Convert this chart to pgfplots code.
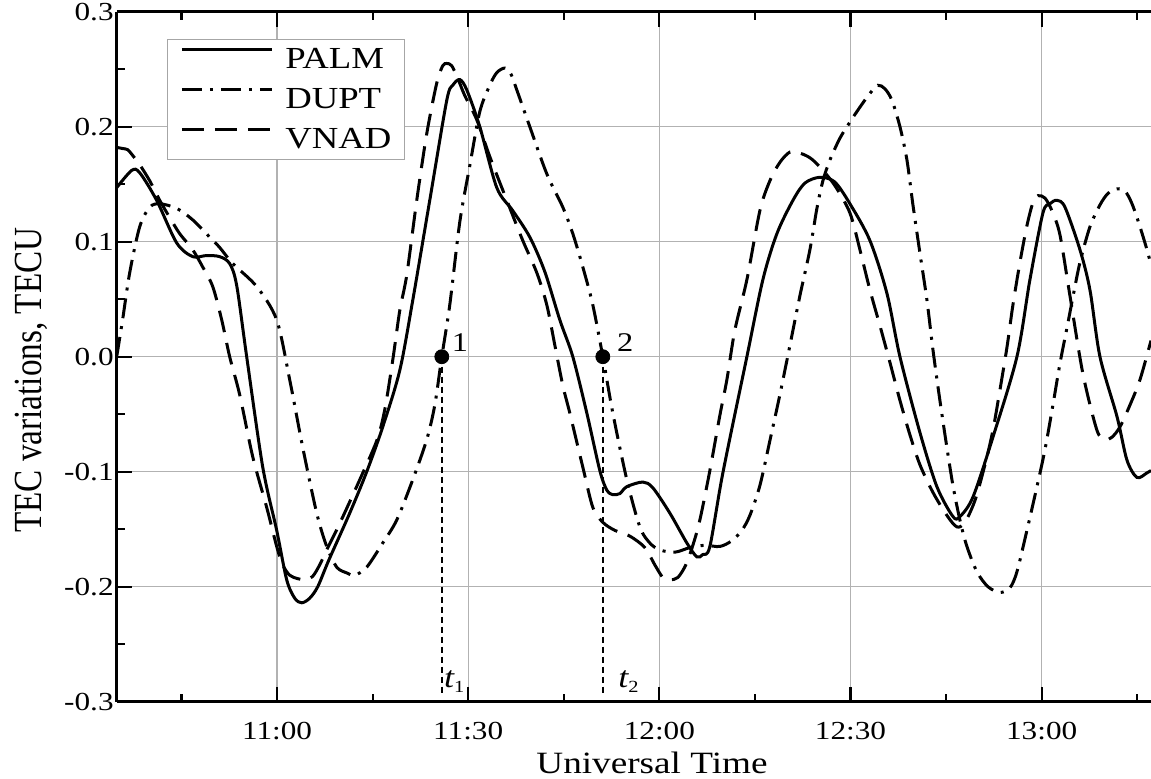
\documentclass[border=0pt]{standalone}
\usepackage{fontspec}
\setmainfont{Liberation Serif}[FakeStretch=1.2]
\newfontfamily\plainserif{Liberation Serif}
\usepackage{graphicx}
\usepackage{pgfplots}
\pgfplotsset{compat=1.18}

\begin{document}
\begin{tikzpicture}
\begin{axis}[
  at={(0,0)}, anchor=south west,
  scale only axis, width=517.15pt, height=345pt,
  xmin=-25.16, xmax=137.16, ymin=-0.3, ymax=0.3,
  axis y line*=left, y axis line style={-},
  axis line style={line width=1.3pt},
  xtick={0,30,60,90,120}, xticklabels={11:00,11:30,12:00,12:30,13:00},
  minor xtick={-15,15,45,75,105,135},
  ytick={-0.3,-0.2,-0.1,0,0.1,0.2,0.3},
  yticklabels={-0.3,-0.2,-0.1,0.0,0.1,0.2,0.3},
  minor ytick={-0.25,-0.15,-0.05,0.05,0.15,0.25},
  tick align=inside, major tick length=7.5pt, minor tick length=4pt,
  tick style={black, line width=1.1pt},
  grid=major, major grid style={gray!60, line width=0.6pt},
  ticklabel style={font=\fontsize{13}{13}\selectfont},
  xticklabel style={yshift=-6.5pt},
  yticklabel style={xshift=2pt},
  xlabel={Universal Time},
  xlabel style={at={(axis description cs:0.5175,-0.1036)}, anchor=base, font=\fontsize{15.5}{15.5}\selectfont},
  ylabel={\scalebox{1}[1.2]{\plainserif\fontsize{16.6}{16.6}\selectfont TEC variations, TECU}},
  ylabel style={at={(axis description cs:-0.0829,0.466)}, anchor=center},
  legend style={at={(axis description cs:0.0483,0.9604)}, anchor=north west,
    draw=gray!70, line width=0.6pt, font=\fontsize{15.3}{15.3}\selectfont,
    nodes={inner sep=0pt}, column sep=6pt, row sep=8.4pt,
    inner xsep=6.5pt, inner ysep=4.3pt},
  legend cell align=left,
  legend image code/.code={\draw[#1] (0pt,5pt) -- (45pt,5pt);},
]
\addplot[black, line width=1.5pt, smooth] coordinates {
(-25.16,0.147) (-22.81,0.162) (-21.55,0.160) (-18.89,0.136) (-15.75,0.099)
(-13.23,0.087) (-11.04,0.088) (-9.00,0.087) (-7.43,0.081) (-6.33,0.062)
(-4.76,0.000) (-2.24,-0.096) (-0.05,-0.151) (1.52,-0.194) (2.78,-0.210)
(3.88,-0.214) (5.13,-0.210) (6.39,-0.200) (8.12,-0.177) (11.41,-0.136)
(14.08,-0.100) (16.59,-0.061) (19.26,-0.012) (21.30,0.049) (23.97,0.136)
(26.64,0.223) (27.58,0.236) (28.68,0.241) (29.78,0.232) (31.82,0.200)
(34.49,0.147) (37.00,0.127) (39.67,0.104) (42.02,0.074) (44.38,0.032)
(46.42,0.000) (48.62,-0.049) (50.66,-0.099) (51.76,-0.116) (52.70,-0.120)
(53.80,-0.119) (54.90,-0.113) (57.41,-0.109) (58.98,-0.114) (61.65,-0.136)
(64.32,-0.162) (65.88,-0.174) (66.83,-0.172) (67.93,-0.165) (69.97,-0.101)
(73.74,0.000) (76.25,0.067) (78.45,0.107) (80.97,0.136) (82.85,0.151)
(85.20,0.156) (87.52,0.152) (89.91,0.133) (93.05,0.101) (95.72,0.055)
(97.76,0.000) (100.90,-0.066) (103.56,-0.113) (106.08,-0.139) (107.17,-0.139)
(109.22,-0.122) (112.35,-0.070) (116.12,0.000) (118.16,0.067) (120.20,0.125)
(121.30,0.133) (122.40,0.136) (123.66,0.130) (126.01,0.093) (127.58,0.058)
(129.15,0.000) (131.82,-0.052) (133.39,-0.090) (134.96,-0.105) (136.53,-0.101)
(137.16,-0.099)
};
\addlegendentry{PALM}
\addplot[black, line width=1.5pt, smooth, dash pattern=on 10pt off 4pt on 1.5pt off 4pt] coordinates {
(-25.16,0.000) (-24.21,0.033) (-23.12,0.073) (-21.55,0.113) (-19.98,0.130)
(-18.41,0.133) (-15.75,0.129) (-13.23,0.119) (-10.57,0.104) (-9.00,0.095)
(-6.95,0.081) (-3.19,0.061) (-0.05,0.032) (1.99,-0.020) (4.04,-0.079)
(6.23,-0.136) (7.80,-0.165) (9.37,-0.183) (10.94,-0.188) (12.20,-0.190)
(14.08,-0.183) (16.59,-0.162) (18.79,-0.142) (21.30,-0.107) (23.50,-0.072)
(24.76,-0.042) (25.86,0.000) (27.11,0.045) (28.68,0.117) (30.25,0.166)
(31.82,0.213) (33.39,0.236) (34.49,0.247) (35.75,0.251) (36.69,0.246)
(37.63,0.232) (39.67,0.200) (42.34,0.159) (44.85,0.130) (46.42,0.107)
(47.99,0.078) (49.56,0.045) (51.13,0.000) (52.70,-0.049) (54.90,-0.107)
(56.94,-0.148) (58.51,-0.162) (60.08,-0.168) (62.43,-0.170) (64.79,-0.166)
(67.14,-0.164) (69.50,-0.165) (71.38,-0.160) (72.95,-0.151) (74.21,-0.138)
(75.78,-0.112) (77.35,-0.073) (78.92,-0.033) (80.50,0.010) (82.06,0.053)
(83.63,0.093) (84.73,0.129) (85.67,0.153) (86.77,0.171) (88.34,0.190)
(89.91,0.204) (91.48,0.217) (93.05,0.229) (94.30,0.236) (95.40,0.233)
(96.50,0.223) (97.76,0.200) (98.86,0.171) (99.80,0.132) (100.90,0.090)
(102.00,0.049) (102.94,0.006) (104.03,-0.038) (105.13,-0.079) (106.08,-0.112)
(107.17,-0.142) (108.27,-0.165) (109.84,-0.187) (111.57,-0.200) (113.45,-0.205)
(115.02,-0.201) (116.12,-0.187) (117.69,-0.151) (119.26,-0.113) (120.51,-0.081)
(121.77,-0.042) (122.87,-0.006) (123.97,0.025) (124.91,0.052) (126.01,0.082)
(127.58,0.113) (129.15,0.132) (130.41,0.142) (131.82,0.146) (133.08,0.144)
(134.18,0.133) (135.43,0.113) (136.53,0.093) (137.16,0.080)
};
\addlegendentry{DUPT}
\addplot[black, line width=1.5pt, smooth, dash pattern=on 11pt off 5.5pt] coordinates {
(-25.16,0.182) (-24.21,0.181) (-23.44,0.180) (-22.65,0.175) (-21.55,0.167)
(-19.98,0.153) (-18.41,0.136) (-16.84,0.121) (-15.27,0.107) (-13.23,0.093)
(-11.66,0.078) (-10.09,0.061) (-8.68,0.032) (-7.43,0.000) (-5.86,-0.033)
(-3.81,-0.087) (-1.62,-0.131) (-0.05,-0.165) (0.89,-0.181) (1.99,-0.190)
(3.25,-0.193) (4.51,-0.194) (5.60,-0.191) (6.70,-0.181) (7.80,-0.168)
(9.84,-0.145) (12.98,-0.107) (15.65,-0.073) (16.91,-0.046) (18.16,-0.003)
(19.26,0.040) (20.36,0.071) (21.93,0.136) (23.50,0.194) (25.07,0.238)
(26.01,0.253) (26.64,0.255) (27.42,0.253) (28.37,0.242) (29.47,0.227)
(31.35,0.206) (33.39,0.174) (36.06,0.136) (38.57,0.101) (40.77,0.073)
(42.34,0.045) (43.60,0.010) (44.85,-0.025) (45.95,-0.049) (47.99,-0.096)
(49.56,-0.131) (51.13,-0.144) (53.01,-0.151) (55.37,-0.156) (57.73,-0.166)
(59.29,-0.181) (60.55,-0.192) (61.65,-0.194) (62.90,-0.192) (64.16,-0.181)
(65.26,-0.164) (66.36,-0.142) (67.93,-0.099) (69.50,-0.051) (70.60,-0.020)
(71.85,0.023) (73.74,0.067) (75.78,0.127) (77.35,0.153) (78.92,0.169)
(80.50,0.178) (82.06,0.177) (83.63,0.173) (85.20,0.165) (87.52,0.149)
(89.91,0.125) (91.48,0.093) (93.05,0.058) (94.62,0.027) (96.19,-0.005)
(97.76,-0.038) (99.33,-0.068) (100.90,-0.094) (102.94,-0.118) (105.13,-0.138)
(106.70,-0.148) (107.95,-0.144) (109.53,-0.125) (111.10,-0.094) (112.35,-0.064)
(113.45,-0.029) (114.55,0.008) (115.49,0.045) (116.59,0.082) (117.69,0.114)
(118.63,0.134) (119.42,0.140) (120.51,0.138) (121.61,0.127) (122.87,0.106)
(124.44,0.053) (126.48,-0.015) (128.68,-0.064) (129.94,-0.072) (131.03,-0.070)
(132.29,-0.061) (133.86,-0.042) (135.43,-0.020) (137.16,0.014)
};
\addlegendentry{VNAD}
% marked zero crossings and their times
\addplot[black, line width=0.8pt, dash pattern=on 3pt off 2pt, forget plot] coordinates {(25.86,0) (25.86,-0.294)};
\addplot[black, line width=0.8pt, dash pattern=on 3pt off 2pt, forget plot] coordinates {(51.13,0) (51.13,-0.294)};
\addplot[black, only marks, mark=*, mark size=3.5pt, forget plot] coordinates {(25.86,0) (51.13,0)};
\node[font=\fontsize{13.5}{13.5}\selectfont] at (axis cs:28.73,0.0123) {1};
\node[font=\fontsize{13.5}{13.5}\selectfont] at (axis cs:54.66,0.0123) {2};
\node[anchor=base west, inner sep=0pt, font=\fontsize{15}{15}\selectfont] at (axis cs:26.17,-0.288) {\itshape t\raisebox{-2.5pt}{\upshape\fontsize{8.5}{8.5}\selectfont 1}};
\node[anchor=base west, inner sep=0pt, font=\fontsize{15}{15}\selectfont] at (axis cs:53.49,-0.288) {\itshape t\raisebox{-2.5pt}{\upshape\fontsize{8.5}{8.5}\selectfont 2}};
\end{axis}
\pgfresetboundingbox
\path[use as bounding box] (-58.35pt,-38.25pt) rectangle (517.15pt,350.85pt);
\end{tikzpicture}
\end{document}
